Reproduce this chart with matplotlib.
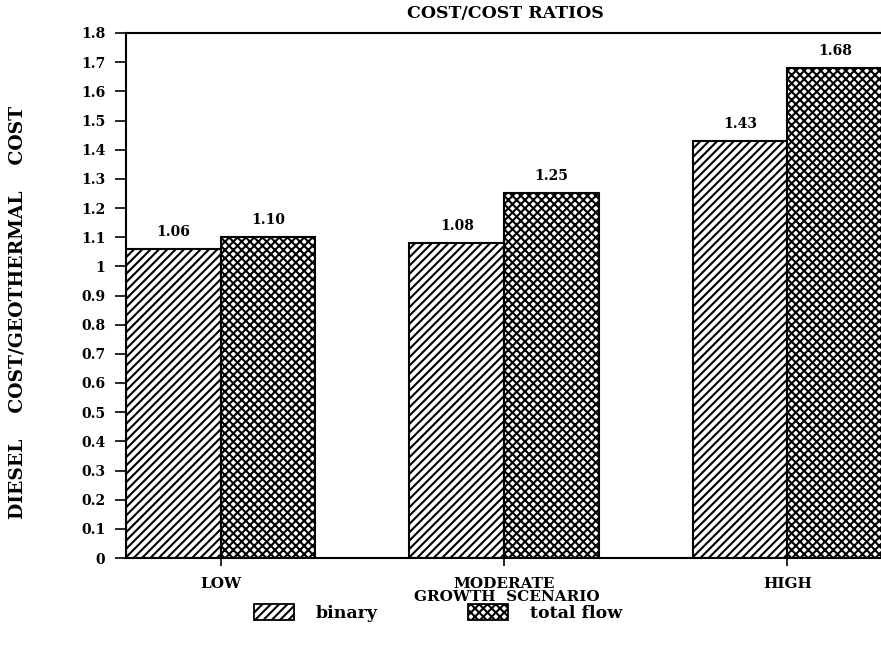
import matplotlib.pyplot as plt
import matplotlib.patches as mpatches
import numpy as np

# ── data ──────────────────────────────────────────────────────────────────────

SCENARIOS   = ["LOW", "MODERATE", "HIGH"]
BINARY      = [1.06, 1.08, 1.43]
TOTAL_FLOW  = [1.10, 1.25, 1.68]
BIN_LABELS  = ["1.06", "1.08", "1.43"]
TF_LABELS   = ["1.10", "1.25", "1.68"]
Y_TICKS     = [0, 0.1, 0.2, 0.3, 0.4, 0.5, 0.6, 0.7, 0.8, 0.9,
               1, 1.1, 1.2, 1.3, 1.4, 1.5, 1.6, 1.7, 1.8]
Y_TICKLBLS  = ["0", "0.1", "0.2", "0.3", "0.4", "0.5", "0.6", "0.7", "0.8", "0.9",
               "1", "1.1", "1.2", "1.3", "1.4", "1.5", "1.6", "1.7", "1.8"]

plt.rcParams["font.family"] = "DejaVu Serif"
plt.rcParams["font.weight"] = "bold"
plt.rcParams["hatch.linewidth"] = 1.5

fig = plt.figure(figsize=(8.81, 6.49), dpi=100)
ax = fig.add_axes([126 / 881, 1 - 558 / 649, 1 - 126 / 881, 525 / 649])

x = np.arange(len(SCENARIOS))
w = 0.334
ax.bar(x - w / 2, BINARY, w, facecolor="white", edgecolor="black",
       hatch="////", lw=1.5)
ax.bar(x + w / 2, TOTAL_FLOW, w, facecolor="white", edgecolor="black",
       hatch="xxxx", lw=1.5)

for xi, v, s in zip(x - w / 2, BINARY, BIN_LABELS):
    ax.text(xi, v + 0.035, s, ha="center", va="bottom", fontsize=10, weight="bold")
for xi, v, s in zip(x + w / 2, TOTAL_FLOW, TF_LABELS):
    ax.text(xi, v + 0.035, s, ha="center", va="bottom", fontsize=10, weight="bold")

ax.set_xlim(-w, 2.33)
ax.set_ylim(0, 1.8)
ax.set_yticks(Y_TICKS)
ax.set_yticklabels(Y_TICKLBLS, fontsize=10, weight="bold")
ax.set_xticks(x)
ax.set_xticklabels(SCENARIOS, fontsize=11, weight="bold")
ax.tick_params(axis="y", length=8, width=1.2, pad=7)
ax.tick_params(axis="x", length=6, width=1.2, pad=8)

for side in ["left", "bottom", "top"]:
    ax.spines[side].set_linewidth(1.5)
ax.spines["right"].set_visible(False)

fig.text(505 / 881, 1 - 14 / 649, "COST/COST RATIOS", ha="center", va="center",
         fontsize=12.5, weight="bold")
fig.text(18 / 881, 1 - 312 / 649, "DIESEL    COST/GEOTHERMAL    COST", rotation=90,
         ha="center", va="center", fontsize=13.5, weight="bold")
fig.text(507 / 881, 1 - 597 / 649, "GROWTH  SCENARIO", ha="center", va="center",
         fontsize=11, weight="bold")

handles = [mpatches.Patch(facecolor="white", edgecolor="black", hatch="////", lw=1.3),
           mpatches.Patch(facecolor="white", edgecolor="black", hatch="xxxx", lw=1.3)]
fig.legend(handles, ["binary", "total flow"], ncol=2, frameon=False,
           loc="center", bbox_to_anchor=(438 / 881, 1 - 613 / 649),
           fontsize=12.5, handlelength=2.3, handleheight=1.0,
           handletextpad=1.26, columnspacing=5.2)

fig.savefig("out.png", dpi=100)
